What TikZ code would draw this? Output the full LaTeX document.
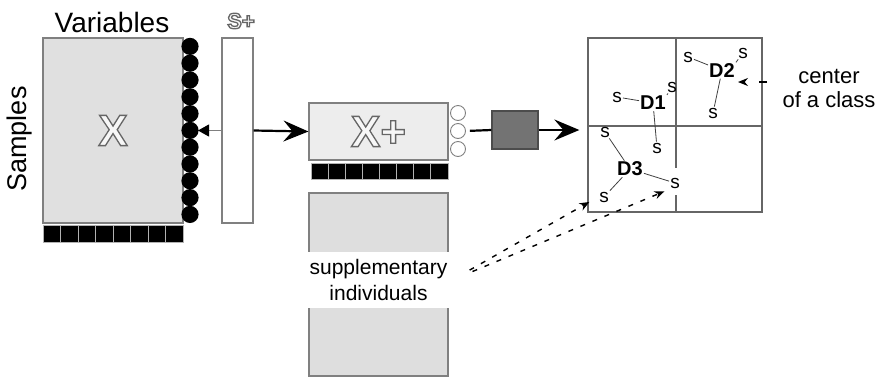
\documentclass[tikz,border=0pt]{standalone}
\usepackage{fontspec}
\setmainfont{Liberation Sans}
\usetikzlibrary{arrows.meta,positioning}
\newcommand\hollow[1]{\special{pdf:literal direct 2 Tr 1.3 w 0.97 g 0.4 G}#1\special{pdf:literal direct 0 Tr 0 g 0 G}}
\tikzset{
  blk/.style={fill=black,draw=gray!60,line width=0.5pt},
  box/.style={draw=gray,line width=1.1pt,inner sep=0pt},
  cls/.style={font=\fontsize{20}{20}\selectfont\bfseries,inner sep=1pt},
  smp/.style={font=\fontsize{19}{19}\selectfont,inner sep=1pt},
  tie/.style={draw=black!75,line width=0.8pt},
  rule/.style={draw=black!60,line width=1.2pt},
  bigarrow/.style={line width=2.2pt,-{Stealth[length=25pt,width=21pt,inset=9pt]}},
  suparrow/.style={line width=1.4pt,dash pattern=on 5pt off 8pt,-{Stealth[length=10pt,width=8pt]}}
}
\begin{document}
\begin{tikzpicture}[x=1pt,y=-1pt]
\useasboundingbox (0,0) rectangle (877,378);
\node[box,fill=black!12,minimum width=140pt,minimum height=185pt] (X) at (113,130.5)
  {\fontsize{44}{44}\selectfont\bfseries\hollow{X}};
\foreach \i in {0,...,10} \fill (190,46.4+16.8*\i) circle (8.6);
\foreach \i in {0,...,7} \draw[blk] (43+17.5*\i,225) rectangle ++(17.5,17);
\node (var) at (112,22) {\fontsize{28}{28}\selectfont Variables};
\node[rotate=90] (smps) at (20,139) {\fontsize{27}{27}\selectfont Samples};
\coordinate (dots) at (198,130.5);

\node[box,fill=white,minimum width=31pt,minimum height=185pt] (sp) at (237.5,130.5) {};
\node (spl) at (241,21) {\fontsize{22}{22}\selectfont\bfseries\hollow{S+}};
\draw[gray,line width=1pt,-{Triangle[black,length=11pt,width=12pt]}] (sp.west) -- (dots);

\node[box,fill=black!7,minimum width=139pt,minimum height=57pt] (xp) at (378.5,131.5)
  {\fontsize{44}{44}\selectfont\bfseries\hollow{X+}};
\draw[bigarrow] (sp.east) -- (xp.west);
\foreach \i in {0,...,7} \draw[blk] (311+17.1*\i,163) rectangle ++(17.1,16);
\foreach \y [count=\i] in {113,131,149}
  \node[circle,draw=gray,line width=0.9pt,fill=white,minimum size=15pt,inner sep=0pt] (c\i) at (458,\y) {};

\node[draw=black!70,line width=1.1pt,fill=black!55,minimum width=46pt,minimum height=38pt,inner sep=0pt] (proj) at (515,130) {};
\draw[line width=2.2pt,shorten <=4pt] (c2.east) -- (proj.west);

\node[box,draw=black!60,line width=1.3pt,minimum width=174pt,minimum height=174pt] (grid) at (675,125) {};
\draw[bigarrow,shorten >=8pt] (proj.east) -- (grid.west |- proj.east);
\draw[rule] (676,38) -- (676,168) (676,195) -- (676,212);
\draw[rule] (588,126) -- (762,126);

\node[cls] (d1) at (653,103) {D1};
\node[cls] (d2) at (722,70.5) {D2};
\node[cls] (d3) at (630,169) {D3};
\node[smp] (s1a) at (617,97) {s};
\node[smp] (s1b) at (672,87) {s};
\node[smp] (s1c) at (657,148) {s};
\node[smp] (s2a) at (688,57) {s};
\node[smp] (s2b) at (743,53) {s};
\node[smp] (s2c) at (713,113) {s};
\node[smp] (s3a) at (605,132) {s};
\node[smp] (s3b) at (675,183) {s};
\node[smp] (s3c) at (604,197) {s};
\draw[tie] (d1) -- (s1a);
\draw[tie] (d1.north east) -- (s1b);
\draw[tie] (d1) -- (s1c);
\draw[tie] (d2) -- (s2a);
\draw[tie] (d2.north east) -- (s2b);
\draw[tie] (d2) -- (s2c);
\draw[tie] (d3) -- (s3a);
\draw[tie] (d3) -- (s3b);
\draw[tie] (d3) -- (s3c);

\node[align=center,font=\fontsize{22}{24}\selectfont] (cen) at (829,88) {center\\of a class};
\draw[line width=1.3pt,dash pattern=on 8pt off 20pt,-{Stealth[length=10pt,width=8pt]},shorten >=2pt]
  ([xshift=-12pt,yshift=6pt]cen.west) -- ([yshift=6pt]cen.west -| d2.east);

\node[box,fill=black!13,minimum width=139pt,minimum height=183pt] (sup) at (378.5,284.5) {};
\node[fill=white,minimum width=147pt,minimum height=56pt,align=center,font=\fontsize{21}{26}\selectfont] (suptxt) at (378.5,280)
  {supplementary\\individuals};
\draw[suparrow,shorten <=20pt,shorten >=10pt] (suptxt.east) -- (s3c.west);
\draw[suparrow,shorten <=22pt,shorten >=5pt] (suptxt.east) -- (s3b.south west);
\end{tikzpicture}
\end{document}
